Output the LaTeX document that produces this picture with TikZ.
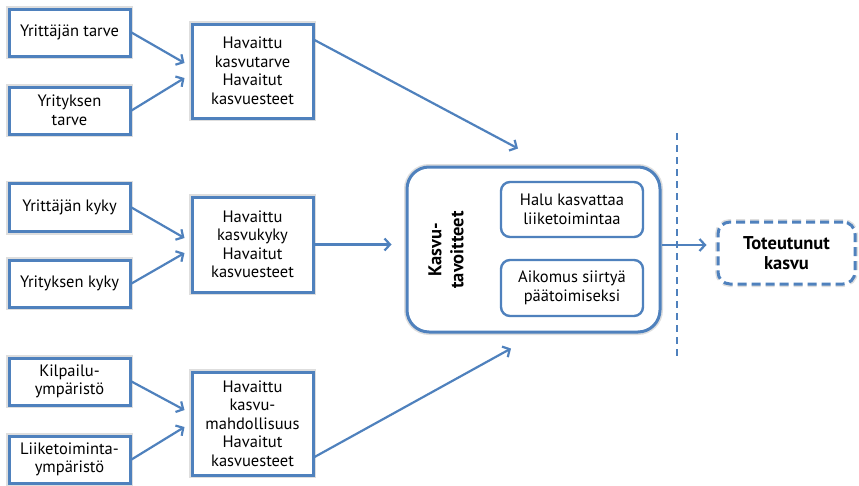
\documentclass[tikz,border=0pt]{standalone}
\usepackage{fontspec}
\setmainfont{PT Sans}
\usetikzlibrary{arrows.meta}
\definecolor{bl}{HTML}{4F81BD}
\begin{document}
\begin{tikzpicture}[x=1pt,y=-1pt,
  halo/.style={preaction={draw=black,draw opacity=0.13,line width=6pt}},
  box/.style={draw=bl,line width=3pt,fill=white,align=center,inner sep=0pt,halo,
    font=\fontsize{16.5}{18.5}\selectfont},
  rbox/.style={draw=bl,line width=2.4pt,fill=white,align=center,inner sep=0pt,rounded corners=9pt,
    font=\fontsize{16.5}{18.5}\selectfont},
  arr/.style={draw=bl,line width=2.2pt,-{Straight Barb[length=5.5pt,width=12pt,line width=2.2pt]}},
]
\useasboundingbox (0,0) rectangle (859,485);
% left column
\node[box,minimum width=121pt,minimum height=47pt] (a1) at (69.5,32.5) {Yrittäjän tarve};
\node[box,minimum width=121pt,minimum height=47pt] (a2) at (69.5,110.5) {Yrityksen\\tarve};
\node[box,minimum width=121pt,minimum height=48pt] (b1) at (69.5,207.5) {Yrittäjän kyky};
\node[box,minimum width=121pt,minimum height=47pt] (b2) at (69.5,283.5) {Yrityksen kyky};
\node[box,minimum width=121pt,minimum height=47pt] (c1) at (69.5,381.5) {Kilpailu-\\ympäristö};
\node[box,minimum width=121pt,minimum height=47pt] (c2) at (69.5,459.5) {Liiketoiminta-\\ympäristö};
% middle column
\node[box,minimum width=121pt,minimum height=94pt] (h1) at (252.5,71) {Havaittu\\kasvutarve\\Havaitut\\kasvuesteet};
\node[box,minimum width=121pt,minimum height=95pt] (h2) at (252.5,244.5) {Havaittu\\kasvukyky\\Havaitut\\kasvuesteet};
\node[box,minimum width=121pt,minimum height=103pt] (h3) at (252.5,423.5) {Havaittu\\kasvu-\\mahdollisuus\\Havaitut\\kasvuesteet};
% big box
\node[draw=bl,line width=3pt,fill=white,rounded corners=22pt,halo,minimum width=253pt,minimum height=165pt,inner sep=0pt] (big) at (533.5,249.5) {};
\node[rotate=90,align=center,font=\bfseries\fontsize{18.5}{22}\selectfont] (kt) at (446,250) {Kasvu-\\tavoitteet};
\node[rbox,minimum width=142pt,minimum height=55pt] (i1) at (572,209.5) {Halu kasvattaa\\liiketoimintaa};
\node[rbox,minimum width=142pt,minimum height=56pt] (i2) at (572,288) {Aikomus siirtyä\\päätoimiseksi};
% result
\node[draw=bl,line width=3pt,dash pattern=on 9pt off 5pt,fill=white,rounded corners=12pt,halo,
  minimum width=137pt,minimum height=62pt,inner sep=0pt,align=center,
  font=\bfseries\fontsize{18.5}{19.5}\selectfont] (tot) at (786.5,253) {Toteutunut\\kasvu};
% dashed divider
\coordinate (d1) at (677,133);
\coordinate (d2) at (677,360);
\draw[draw=bl,line width=2pt,dash pattern=on 7pt off 5pt] (d1) -- (d2);
% arrows
\draw[arr] (a1.east) -- ([xshift=-6pt,yshift=8pt]h1.west);
\draw[arr] (a2.east) -- ([xshift=-6pt,yshift=-7pt]h1.west);
\draw[arr] (b1.east) -- ([xshift=-6pt,yshift=6.5pt]h2.west);
\draw[arr] (b2.east) -- ([xshift=-6pt,yshift=-8.5pt]h2.west);
\draw[arr] (c1.east) -- ([xshift=-6pt,yshift=13.5pt]h3.west);
\draw[arr] (c2.east) -- ([xshift=-6pt,yshift=-3.5pt]h3.west);
\draw[arr] ([yshift=31pt]h1.east) -- ([xshift=-15.5pt,yshift=17pt]big.north);
\draw[arr] (h2.east) -- ([xshift=-14pt]h2.east -| big.west);
\draw[arr] ([yshift=-33.5pt]h3.east) -- ([xshift=-22.5pt,yshift=-15pt]big.south);
\draw[arr] ([yshift=4.5pt]big.east) -- ([xshift=-10pt,yshift=8pt]tot.west);
\end{tikzpicture}
\end{document}
